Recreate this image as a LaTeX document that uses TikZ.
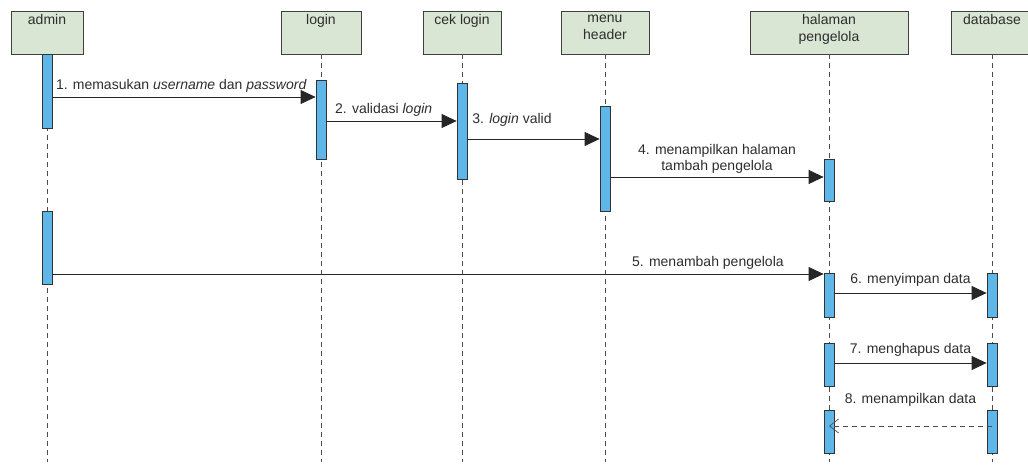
\documentclass[tikz,border=0pt]{standalone}
\usepackage{fontspec}
\setmainfont{Liberation Sans}
\usepackage{tikz}
\usetikzlibrary{calc,positioning,arrows.meta}

\definecolor{headfill}{RGB}{217,230,212}
\definecolor{actfill}{RGB}{94,183,232}
\definecolor{inkgray}{RGB}{45,45,45}

\begin{document}
\begin{tikzpicture}[
	%	style def
    x=1pt, y=-1pt,
    every node/.style={color=inkgray, font=\fontsize{14}{17}\selectfont},
    head/.style={draw=black!75, fill=headfill, minimum height=43pt, anchor=north, inner sep=0pt},
    head text/.style={anchor=north, align=center, inner sep=3.5pt},
    life line/.style={draw=black!70, dash pattern=on 5pt off 4pt, line width=0.7pt},
    act/.style={draw=black!80, fill=actfill, minimum width=10pt, anchor=north, inner sep=0pt, line width=0.8pt},
    call/.style={draw=black!85, line width=0.8pt, -{Triangle[length=15pt,width=14pt]}},
    reply/.style={draw=black!70, line width=0.7pt, dash pattern=on 5pt off 4pt, -{Straight Barb[length=9pt,width=14pt]}}
    ]
	
	% picture frame
	\useasboundingbox (0,0) rectangle (1028,465);
	\clip (0,0) rectangle (1028,465);
	
	% heads of the lifelines
	\node[head, minimum width=72pt] (admin) at (47,11) {};
	\node[head, minimum width=80pt] (login) at (321,11) {};
	\node[head, minimum width=78pt] (ceklogin) at (462,11) {};
	\node[head, minimum width=88pt] (menu) at (605,11) {};
	\node[head, minimum width=158pt] (halaman) at (829,11) {};
	\node[head, minimum width=82pt] (database) at (992,11) {};
	\node[head text] (admin txt) at (admin.north) {admin};
	\node[head text] (login txt) at (login.north) {login};
	\node[head text] (ceklogin txt) at (ceklogin.north) {cek login};
	\node[head text] (menu txt) at (menu.north) {menu\\header};
	\node[head text] (halaman txt) at (halaman.north) {halaman\\pengelola};
	\node[head text] (database txt) at (database.north) {database};
	
	% dashed lifelines
	\coordinate (bottom) at (0,462);
	\foreach \who in {admin,login,ceklogin,menu,halaman,database}
	    \draw[life line] (\who.south) -- (\who.south |- bottom);
	
	% activation bars
	\node[act, minimum height=74pt] (admA) at (47,54) {};
	\node[act, minimum height=73pt] (admB) at (47,211) {};
	\node[act, minimum height=79pt] (logA) at (321,80) {};
	\node[act, minimum height=96pt] (cekA) at (462,83) {};
	\node[act, minimum height=105pt] (menA) at (605,106) {};
	\node[act, minimum height=42pt] (halA) at (829,159) {};
	\node[act, minimum height=44pt] (halB) at (829,273) {};
	\node[act, minimum height=43pt] (halC) at (829,343) {};
	\node[act, minimum height=43pt] (halD) at (829,410) {};
	\node[act, minimum height=44pt] (dbA) at (992,273) {};
	\node[act, minimum height=43pt] (dbB) at (992,343) {};
	\node[act, minimum height=43pt] (dbC) at (992,410) {};
	
	% message heights
	\coordinate (m1) at (0,97);
	\coordinate (m2) at (0,121);
	\coordinate (m3) at (0,139);
	\coordinate (m4) at (0,177);
	\coordinate (m5) at (0,274);
	\coordinate (m6) at (0,293);
	\coordinate (m7) at (0,363);
	\coordinate (m8) at (0,426);
	
	% messages
	\draw[call] (admA.east |- m1) -- (logA.west |- m1)
	    node[pos=0.49, above=0.5pt] (t1) {1. memasukan \textit{username} dan \textit{password}};
	\draw[call] (logA.east |- m2) -- (cekA.west |- m2)
	    node[pos=0.44, above=1pt] (t2) {2. validasi \textit{login}};
	\draw[call] (cekA.east |- m3) -- (menA.west |- m3)
	    node[pos=0.01, above right=9pt and 0pt] (t3) {3. \textit{login} valid};
	\draw[call] (menA.east |- m4) -- (halA.west |- m4)
	    node[midway, above=0pt, align=center, font=\fontsize{14}{16}\selectfont] (t4) {4. menampilkan halaman\\tambah pengelola};
	\draw[call] (admB.east |- m5) -- (halB.west |- m5)
	    node[pos=0.85, above=0.5pt] (t5) {5. menambah pengelola};
	\draw[call] (halB.east |- m6) -- (dbA.west |- m6)
	    node[midway, above=3pt] (t6) {6. menyimpan data};
	\draw[call] (halC.east |- m7) -- (dbB.west |- m7)
	    node[midway, above=3pt] (t7) {7. menghapus data};
	\draw[reply] (dbC.center |- m8) -- (halD.center |- m8)
	    node[midway, above=16pt] (t8) {8. menampilkan data};
	
\end{tikzpicture}
\end{document}
